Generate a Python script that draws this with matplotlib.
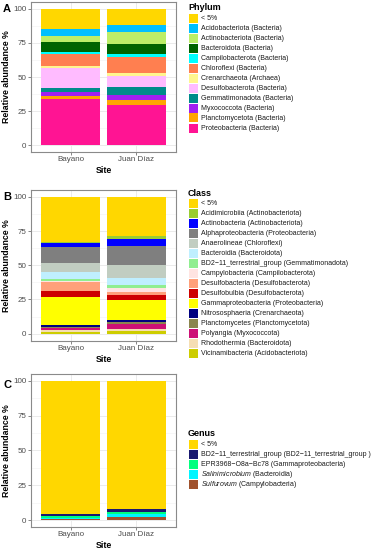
import matplotlib
matplotlib.use("Agg")
import matplotlib.pyplot as plt
from matplotlib.patches import Rectangle

plt.rcParams['font.family'] = ['Liberation Sans', 'DejaVu Sans']
plt.rcParams['mathtext.fontset'] = 'custom'
plt.rcParams['mathtext.rm'] = 'Liberation Sans'
plt.rcParams['mathtext.it'] = 'Liberation Sans:italic'

W, H = 373, 550

sites = ["Bayano", "Juan Díaz"]

# ---- data (legend order, top of the stack first) ----
phylum_labels = ["< 5%", "Acidobacteriota (Bacteria)", "Actinobacteriota (Bacteria)",
                 "Bacteroidota (Bacteria)", "Campilobacterota (Bacteria)", "Chloroflexi (Bacteria)",
                 "Crenarchaeota (Archaea)", "Desulfobacterota (Bacteria)", "Gemmatimonadota (Bacteria)",
                 "Myxococcota (Bacteria)", "Planctomycetota (Bacteria)", "Proteobacteria (Bacteria)"]
phylum_bayano = [14.9, 4.9, 4.4, 7.6, 1.2, 8.8, 1.7, 14.2, 3.4, 2.7, 2.5, 33.7]
phylum_juan = [11.7, 5.2, 8.8, 7.3, 2.5, 11.4, 2.0, 8.1, 6.1, 3.9, 3.7, 29.3]
phylum_colors = ["#FFD700", "#00BFFF", "#BCEE68", "#006400", "#00FFFF", "#FF7F50",
                 "#FFF68F", "#FFBBFF", "#008B8B", "#A020F0", "#FFA500", "#FF1493"]

class_labels = ["< 5%", "Acidimicrobiia (Actinobacteriota)", "Actinobacteria (Actinobacteriota)",
                "Alphaproteobacteria (Proteobacteria)", "Anaerolineae (Chloroflexi)",
                "Bacteroidia (Bacteroidota)", "BD2−11_terrestrial_group (Gemmatimonadota)",
                "Campylobacteria (Campilobacterota)", "Desulfobacteria (Desulfobacterota)",
                "Desulfobulbia (Desulfobacterota)", "Gammaproteobacteria (Proteobacteria)",
                "Nitrososphaeria (Crenarchaeota)", "Planctomycetes (Planctomycetota)",
                "Polyangia (Myxococcota)", "Rhodothermia (Bacteroidota)",
                "Vicinamibacteria (Acidobacteriota)"]
class_bayano = [33.1, 0.8, 2.9, 11.5, 6.3, 5.4, 1.7, 0.3, 6.8, 4.4, 20.7, 1.2, 0.8, 1.7, 1.2, 1.2]
class_juan = [28.3, 2.6, 4.9, 13.9, 9.3, 5.4, 2.2, 2.7, 2.6, 3.7, 14.4, 1.4, 1.7, 3.5, 1.2, 2.2]
class_colors = ["#FFD700", "#9ACD32", "#0000FF", "#7F7F7F", "#C1CDC1", "#BFEFFF", "#90EE90",
                "#FFE4E1", "#FFA07A", "#CD0000", "#FFFF00", "#000080", "#8B864E", "#CD1076",
                "#F5DEB3", "#CDCD00"]

genus_labels = ["< 5%", "BD2−11_terrestrial_group (BD2−11_terrestrial_group )",
                "EPR3968−O8a−Bc78 (Gammaproteobacteria)",
                r"$\it{Salinimicrobium}$ (Bacteroidia)",
                r"$\it{Sulfurovum}$ (Campylobacteria)"]
genus_bayano = [95.7, 1.2, 1.4, 0.7, 1.0]
genus_juan = [92.1, 2.4, 1.4, 1.7, 2.4]
genus_colors = ["#FFD700", "#191970", "#00FF7F", "#00F5FF", "#A0522D"]


def px_rect(left, top, right, bottom):
    return [left / W, 1 - bottom / H, (right - left) / W, (bottom - top) / H]


def draw_panel(fig, rect, letter, letter_top, vals_list, colors):
    ax = fig.add_axes(rect)
    for i, vals in enumerate(vals_list):
        bottom = 0
        # ggplot stacks the last legend entry at the bottom
        for v, c in zip(vals[::-1], colors[::-1]):
            ax.bar(i + 1, v, bottom=bottom, width=0.9, color=c, linewidth=0, zorder=3)
            bottom += v
    ax.set_xlim(0.4, 2.6)
    ax.set_ylim(-5, 105)
    ax.set_xticks([1, 2])
    ax.set_xticklabels(sites)
    ax.set_yticks([0, 25, 50, 75, 100])
    ax.set_yticks([12.5, 37.5, 62.5, 87.5], minor=True)
    ax.grid(True, which='major', color='#EBEBEB', linewidth=0.7, zorder=0)
    ax.grid(True, which='minor', axis='y', color='#F2F2F2', linewidth=0.4, zorder=0)
    ax.tick_params(axis='both', which='major', labelsize=5.8, labelcolor='#4D4D4D',
                   color='#555555', length=2, width=0.5, pad=1.2)
    ax.tick_params(axis='y', which='minor', length=0)
    for s in ax.spines.values():
        s.set_color('#8A8A8A')
        s.set_linewidth(0.8)
    ax.set_ylabel('Relative abundance %', fontsize=6.3, fontweight='bold', labelpad=2)
    ax.set_xlabel('Site', fontsize=6.3, fontweight='bold', labelpad=2)
    fig.text(3 / W, 1 - letter_top / H, letter, fontsize=8, fontweight='bold',
             va='top', ha='left')
    return ax


def draw_legend(fig, title, labels, colors, x0, title_y, key_y0, step=10):
    fig.text(x0 / W, 1 - title_y / H, title, fontsize=6.5, fontweight='bold',
             va='center', ha='left')
    for i, (lab, col) in enumerate(zip(labels, colors)):
        top = key_y0 + i * step
        fig.add_artist(Rectangle(((x0 + 0.5) / W, 1 - (top + 9) / H), 9 / W, 9 / H,
                                 transform=fig.transFigure, facecolor=col, edgecolor='none'))
        fig.text((x0 + 13) / W, 1 - (top + 4.8) / H, lab, fontsize=5.0, color='#1A1A1A',
                 va='center', ha='left')


fig = plt.figure(figsize=(W / 100, H / 100), dpi=100)

draw_panel(fig, px_rect(31, 2, 176, 152), 'A', 3.5, [phylum_bayano, phylum_juan], phylum_colors)
draw_panel(fig, px_rect(31, 190, 176, 340.5), 'B', 192.5, [class_bayano, class_juan], class_colors)
draw_panel(fig, px_rect(31, 374, 176, 527), 'C', 379.5, [genus_bayano, genus_juan], genus_colors)

draw_legend(fig, 'Phylum', phylum_labels, phylum_colors, 188, 7, 13.5)
draw_legend(fig, 'Class', class_labels, class_colors, 188, 193.5, 199)
draw_legend(fig, 'Genus', genus_labels, genus_colors, 188, 434, 440)

fig.savefig('out.png', dpi=100)
